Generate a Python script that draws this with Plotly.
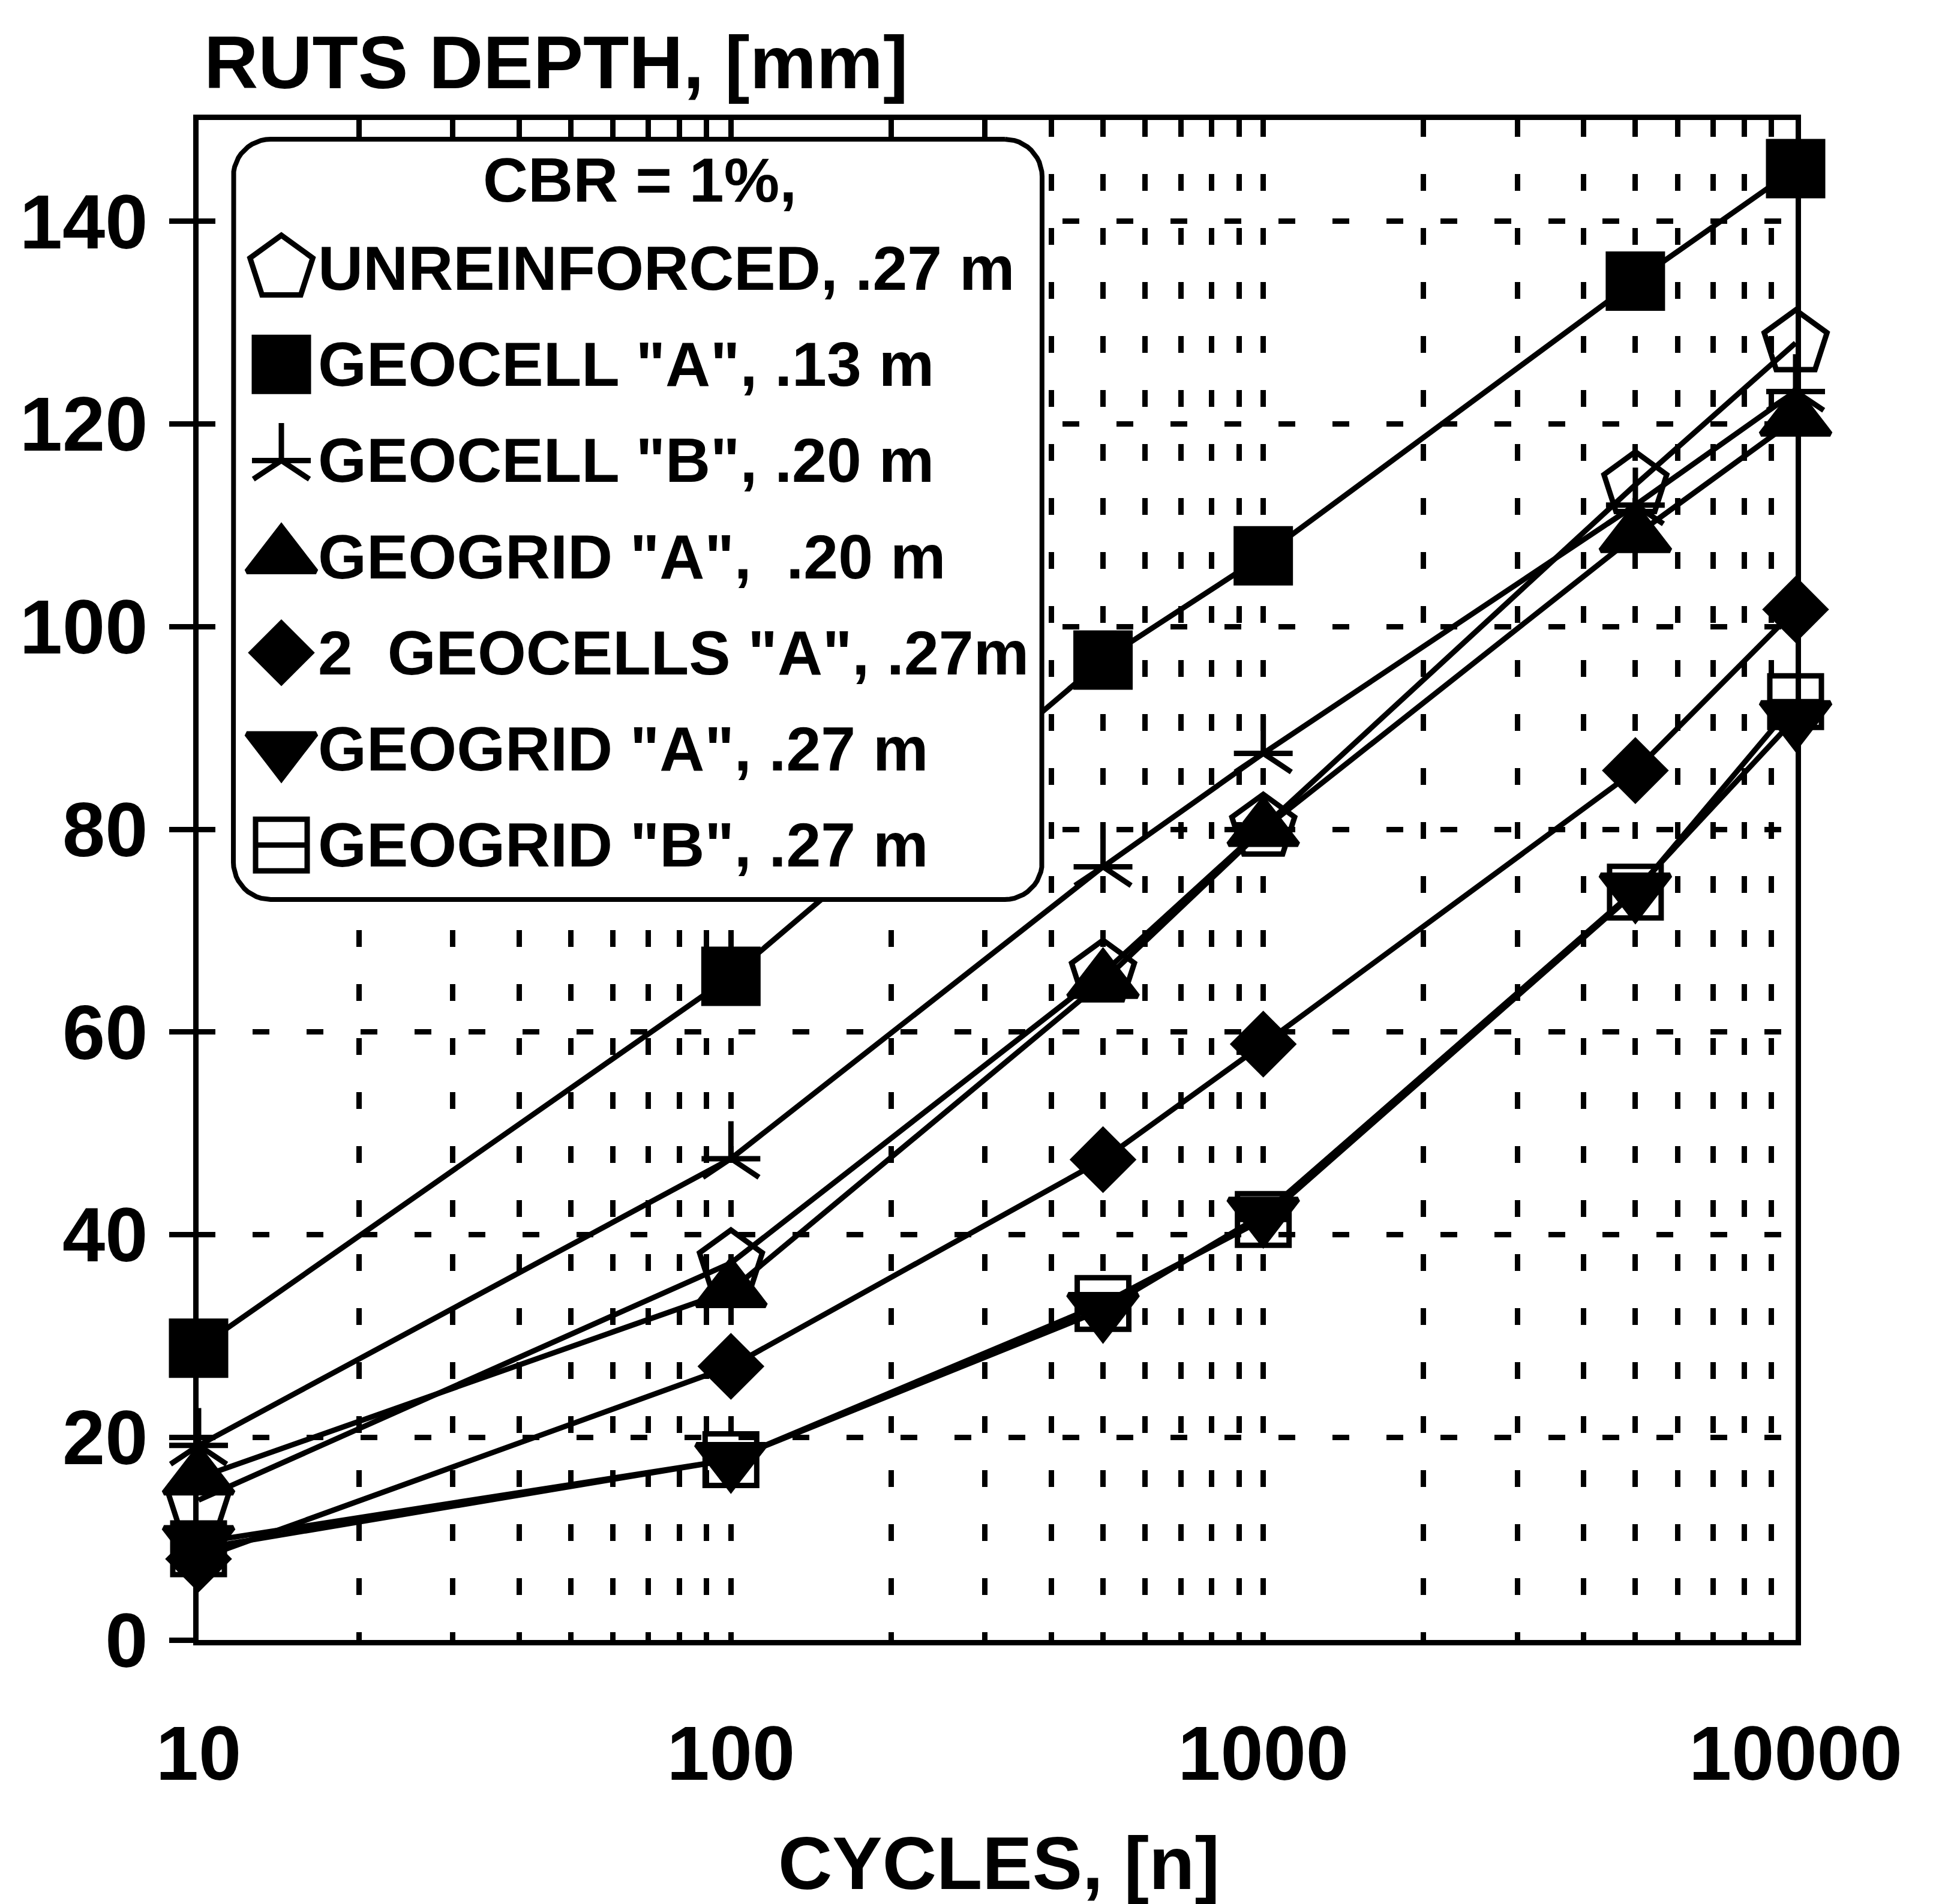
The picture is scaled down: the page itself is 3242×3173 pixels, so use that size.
import math
import plotly.graph_objects as go

# ---------------- data ----------------
cycles = [10, 100, 500, 1000, 5000, 10000]
unreinforced_027 = [13.8, 37.2, 65.8, 80.2, 114.0, 128.0]
geocell_a_013 = [28.8, 65.5, 96.7, 107.0, 134.1, 145.2]
geocell_b_020 = [19.2, 47.5, 76.3, 87.5, 112.0, 123.2]
geogrid_a_020 = [16.0, 34.5, 65.0, 80.0, 109.0, 120.5]
two_geocells_a_027 = [8.0, 27.0, 47.4, 58.8, 85.8, 101.7]
geogrid_a_027 = [9.6, 17.8, 32.6, 42.0, 74.0, 91.0]
geogrid_b_027 = [9.0, 17.8, 33.2, 41.5, 73.8, 92.6]

series_labels = [
    'UNREINFORCED, .27 m',
    'GEOCELL "A", .13 m',
    'GEOCELL "B", .20 m',
    'GEOGRID "A",\u00a0 .20 m',
    '2\u00a0 GEOCELLS "A", .27m',
    'GEOGRID "A", .27 m',
    'GEOGRID "B", .27 m',
]
series_values = [unreinforced_027, geocell_a_013, geocell_b_020, geogrid_a_020,
                 two_geocells_a_027, geogrid_a_027, geogrid_b_027]
legend_title = 'CBR = 1%,'

y_ticks = [0, 20, 40, 60, 80, 100, 120, 140]

# ---------------- styling ----------------
FONT = 'Liberation Sans, Arial, Helvetica, sans-serif'
BLACK = '#000000'
W_FIG, H_FIG = 3242, 3173
L, R, T, B = 331, 2993, 200, 2733
PW, PH = R - L, B - T

# (symbol, size, overlay symbol, overlay size)
styles = [
    ('pentagon-open', 110, None, None),
    ('square', 90, None, None),
    ('y-up-open', 78, 'line-ew-open', 70),
    ('triangle-up', 100, None, None),
    ('diamond', 76, None, None),
    ('triangle-down', 100, None, None),
    ('square-open', 86, 'line-ew-open', 64),
]
MLW = 9
LINE_W = 9


def fx(px):
    return (px - L) / PW


def fy(py):
    return (B - py) / PH


fig = go.Figure()

# data traces
for name, vals, (sym, size, osym, osize) in zip(series_labels, series_values, styles):
    fig.add_trace(go.Scatter(
        x=cycles, y=vals, mode='lines+markers', name=name, showlegend=False,
        line=dict(color=BLACK, width=LINE_W),
        marker=dict(symbol=sym, size=size, color=BLACK, line=dict(color=BLACK, width=MLW)),
        cliponaxis=False,
    ))
    if osym:
        fig.add_trace(go.Scatter(
            x=cycles, y=vals, mode='markers', showlegend=False, hoverinfo='skip',
            marker=dict(symbol=osym, size=osize, color=BLACK, line=dict(color=BLACK, width=MLW)),
            cliponaxis=False,
        ))

# ---------------- hand-built legend on an overlay subplot ----------------
box_l, box_r, box_t, box_b, rad = 389, 1737, 232, 1499, 62
pts = []
corners = [
    (box_r - rad, box_t + rad, -90, 0),
    (box_r - rad, box_b - rad, 0, 90),
    (box_l + rad, box_b - rad, 90, 180),
    (box_l + rad, box_t + rad, 180, 270),
]
for cx, cy, a0, a1 in corners:
    for k in range(13):
        a = math.radians(a0 + (a1 - a0) * k / 12)
        pts.append((cx + rad * math.cos(a), cy + rad * math.sin(a)))
pts.append(pts[0])
fig.add_trace(go.Scatter(
    x=[fx(p[0]) for p in pts], y=[fy(p[1]) for p in pts],
    xaxis='x2', yaxis='y2', mode='lines', fill='toself', fillcolor='white',
    line=dict(color=BLACK, width=8), showlegend=False, hoverinfo='skip',
))

row_y = [447 + 160.2 * i for i in range(len(series_labels))]
sym_x = 469
for (sym, size, osym, osize), ry in zip(styles, row_y):
    fig.add_trace(go.Scatter(
        x=[fx(sym_x)], y=[fy(ry)], xaxis='x2', yaxis='y2', mode='markers',
        marker=dict(symbol=sym, size=size, color=BLACK, line=dict(color=BLACK, width=MLW)),
        showlegend=False, hoverinfo='skip', cliponaxis=False,
    ))
    if osym:
        fig.add_trace(go.Scatter(
            x=[fx(sym_x)], y=[fy(ry)], xaxis='x2', yaxis='y2', mode='markers',
            marker=dict(symbol=osym, size=osize, color=BLACK, line=dict(color=BLACK, width=MLW)),
            showlegend=False, hoverinfo='skip', cliponaxis=False,
        ))

annotations = []
annotations.append(dict(text=legend_title, x=fx(1066), y=fy(300), xref='paper', yref='paper',
                        xanchor='center', yanchor='middle', showarrow=False,
                        font=dict(family=FONT, size=104, color=BLACK, weight='bold')))
for lab, ry in zip(series_labels, row_y):
    annotations.append(dict(text=lab, x=fx(528), y=fy(ry), xref='paper', yref='paper',
                            xanchor='left', yanchor='middle', showarrow=False,
                            font=dict(family=FONT, size=104, color=BLACK, weight='bold')))

# axis titles
annotations.append(dict(text='RUTS DEPTH, [mm]', x=fx(338), y=fy(104), xref='paper', yref='paper',
                        xanchor='left', yanchor='middle', showarrow=False,
                        font=dict(family=FONT, size=125, color=BLACK, weight='bold')))
annotations.append(dict(text='CYCLES, [n]', x=fx(1665), y=fy(3105), xref='paper', yref='paper',
                        xanchor='center', yanchor='middle', showarrow=False,
                        font=dict(family=FONT, size=125, color=BLACK, weight='bold')))

# tick positions for the log axis: every 1..9 x decade
x_tickvals, x_ticktext = [], []
for d in [10, 100, 1000]:
    for m in range(1, 10):
        x_tickvals.append(d * m)
        x_ticktext.append(str(d * m) if m == 1 else '')
x_tickvals.append(10000)
x_ticktext.append('10000')

GRID_DASH = '28px,62px'

fig.update_layout(
    width=W_FIG, height=H_FIG,
    margin=dict(l=L, r=W_FIG - R, t=T, b=H_FIG - B, autoexpand=False),
    paper_bgcolor='white', plot_bgcolor='white',
    showlegend=False,
    font=dict(family=FONT, color=BLACK),
    annotations=annotations,
    xaxis=dict(
        type='log', range=[1, 4], tickvals=x_tickvals, ticktext=x_ticktext,
        showgrid=True, gridcolor=BLACK, gridwidth=9, griddash=GRID_DASH,
        showline=True, linecolor=BLACK, linewidth=9, mirror=True,
        ticks='', ticklabelstandoff=70, zeroline=False, automargin=False,
        tickfont=dict(family=FONT, size=128, color=BLACK, weight='bold'),
    ),
    yaxis=dict(
        range=[0, 150], tickvals=y_ticks,
        showgrid=True, gridcolor=BLACK, gridwidth=9, griddash=GRID_DASH,
        showline=True, linecolor=BLACK, linewidth=9, mirror=True,
        ticks='outside', ticklen=40, tickwidth=9, tickcolor=BLACK,
        ticklabelstandoff=10, zeroline=False, automargin=False,
        tickfont=dict(family=FONT, size=128, color=BLACK, weight='bold'),
    ),
    xaxis2=dict(overlaying='x', range=[0, 1], visible=False, fixedrange=True),
    yaxis2=dict(overlaying='y', range=[0, 1], visible=False, fixedrange=True),
)

fig.write_html('out.html')
